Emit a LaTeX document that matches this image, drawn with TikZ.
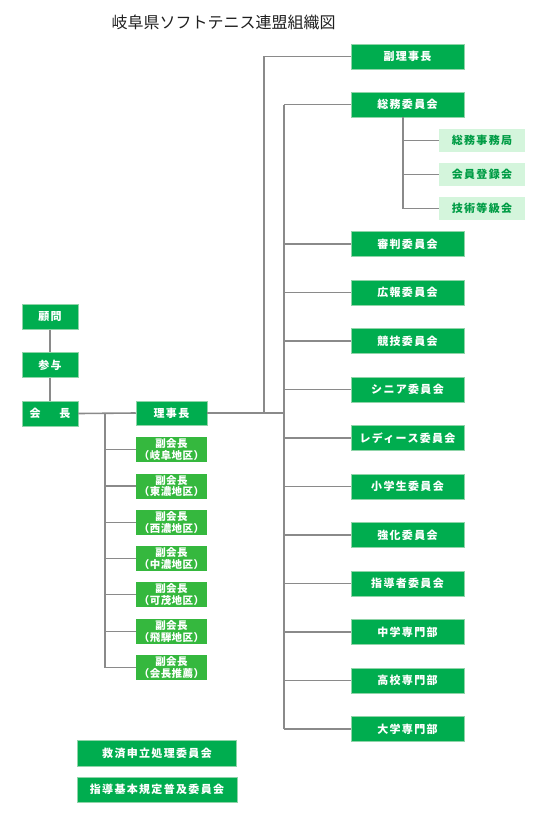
\documentclass[tikz,border=0pt]{standalone}
\usepackage{fontspec}
\newfontfamily\jp{Noto Sans CJK JP}
\newfontfamily\jpsp[LetterSpace=12]{Noto Sans CJK JP}
\newfontfamily\jpvs[LetterSpace=4]{Noto Sans CJK JP}
\definecolor{dgreen}{HTML}{00AD4F}
\definecolor{vgreen}{HTML}{35B83E}
\definecolor{lgreen}{HTML}{D4F5DC}
\definecolor{ltext}{HTML}{009C45}
\definecolor{edge}{HTML}{8FD4A8}
\definecolor{conn}{HTML}{8A8A8A}
\begin{document}
\begin{tikzpicture}[x=1pt,y=-1pt,
  box/.style={fill=dgreen,draw=edge,line width=0.5pt,text=white,inner sep=0pt,
    font=\jpsp\bfseries\fontsize{11}{12}\selectfont},
  lbox/.style={box,minimum width=56pt,minimum height=25pt},
  rbox/.style={box,minimum width=113pt,minimum height=25pt},
  sbox/.style={fill=lgreen,draw=none,text=ltext,inner sep=0pt,minimum width=86pt,minimum height=23pt,
    font=\jpsp\bfseries\fontsize{11}{12}\selectfont},
  vbox/.style={fill=vgreen,draw=none,text=white,inner sep=0pt,minimum width=71pt,minimum height=25pt,
    align=center,font=\jpvs\bfseries\fontsize{10.5}{11.5}\selectfont},
  bbox/.style={box,minimum width=160pt,minimum height=25pt},
  conn/.style={draw=conn,line width=1.6pt}]
\useasboundingbox (0,0) rectangle (543,831);
\node[font=\jp\fontsize{16}{18}\selectfont,text=black!88,anchor=west] (title) at (108,22) {岐阜県ソフトテニス連盟組織図};
% left column
\node[lbox] (komon) at (50,317) {顧問};
\node[lbox] (sanyo) at (50,365) {参与};
\node[lbox] (kaicho) at (50,413.5) {会\hspace{19pt}長};
\node[box,minimum width=71pt,minimum height=24pt] (rijicho) at (171.5,413) {理事長};
% vice presidents
\foreach \n/\y/\t in {v1/449.5/岐阜地区,v2/486/東濃地区,v3/522.5/西濃地区,v4/558.5/中濃地区,v5/594.5/可茂地区,v6/631.5/飛騨地区,v7/667.5/会長推薦}
  \node[vbox] (\n) at (171.5,\y) {副会長\\（\t）};
% right column
\node[rbox] (fuku) at (407.5,56.5) {副理事長};
\node[rbox] (soumu) at (407.5,104.5) {総務委員会};
\node[sbox] (s1) at (482,140.5) {総務事務局};
\node[sbox] (s2) at (482,174.5) {会員登録会};
\node[sbox] (s3) at (482,208.5) {技術等級会};
\foreach \n/\y/\t in {r1/244/審判委員会,r2/292.5/広報委員会,r3/341/競技委員会,r4/389.5/シニア委員会,r5/438/レディース委員会,r6/486.5/小学生委員会,r7/535/強化委員会,r8/583.5/指導者委員会,r9/632/中学専門部,r10/680.5/高校専門部,r11/729/大学専門部}
  \node[rbox] (\n) at (407.5,\y) {\t};
% bottom
\node[bbox,minimum width=159pt,minimum height=26pt] (b1) at (157,753) {救済申立処理委員会};
\node[bbox] (b2) at (157,789.5) {指導基本規定普及委員会};
% coordinates
\coordinate (J1) at (264,413);
\coordinate (J2) at (284,413);
\coordinate (K) at (105,413);
\coordinate (T) at (403,117);
% connectors
\draw[conn] (komon) -- (sanyo);
\draw[conn] (sanyo) -- (kaicho);
\draw[conn] (kaicho.east) -- (rijicho.west);
\draw[conn] (rijicho.east) -- (J2);
\draw[conn] (J1) |- (fuku.west);
\draw[conn] (J2 |- soumu.west) -- (J2 |- r11.west);
\foreach \n in {soumu,r1,r2,r3,r4,r5,r6,r7,r8,r9,r10,r11}
  \draw[conn] (J2 |- \n.west) -- (\n.west);
\draw[conn] (K) -- (K |- v7.west);
\foreach \n in {v1,v2,v3,v4,v5,v6,v7}
  \draw[conn] (K |- \n.west) -- (\n.west);
\draw[conn] (T) -- (T |- s3.west);
\foreach \n in {s1,s2,s3}
  \draw[conn] (T |- \n.west) -- (\n.west);
\end{tikzpicture}
\end{document}
